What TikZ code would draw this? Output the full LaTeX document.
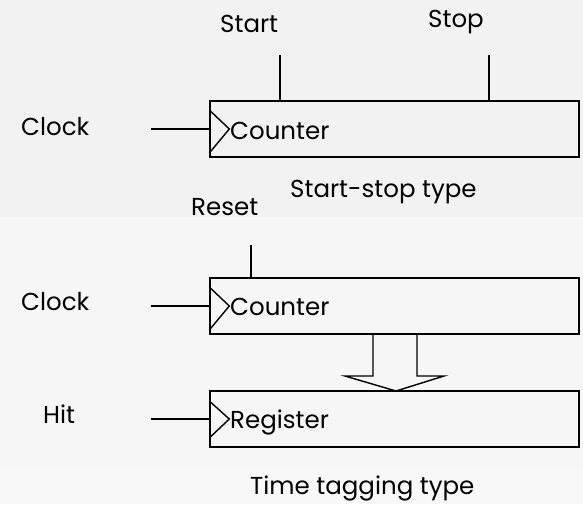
\documentclass[tikz,border=0pt]{standalone}
\usepackage{fontspec}
\setmainfont{Poppins}
\begin{document}
\begin{tikzpicture}[x=1pt,y=-1pt,
  box/.style={draw,line width=1.4pt,minimum width=369pt,inner sep=0pt},
  lbl/.style={inner sep=0pt,anchor=base west,font=\fontsize{24.5}{26}\selectfont},
  wire/.style={line width=1.4pt}]
\useasboundingbox (0,0) rectangle (583,504);
\fill[fill={rgb,255:red,242;green,242;blue,242}] (0,0) rectangle (583,217);
\fill[fill={rgb,255:red,246;green,246;blue,246}] (0,217) rectangle (583,468);
\fill[fill={rgb,255:red,248;green,248;blue,248}] (0,468) rectangle (583,504);
% start-stop
\node[box,minimum height=56pt] (c1) at (394.5,129) {};
\node[lbl] (tc1) at (230,139) {Counter};
\node[lbl] (start) at (220,32) {Start};
\node[lbl] (stop) at (428,27) {Stop};
\node[lbl] (clk1) at (21,135) {Clock};
\node[lbl] (sst) at (290,197) {Start-stop type};
\coordinate (s0) at (280,55);
\coordinate (p0) at (489,55);
\coordinate (k1) at (151,129);
\draw[wire] (s0) -- (s0 |- c1.north);
\draw[wire] (p0) -- (p0 |- c1.north);
\draw[wire] (k1) -- (c1.west);
\draw[wire] ([yshift=-24pt]c1.west) -- ([xshift=20pt]c1.west) -- ([yshift=19pt]c1.west);
% time tagging
\node[box,minimum height=56pt] (c2) at (394.5,306) {};
\node[lbl] (tc2) at (230,315) {Counter};
\node[lbl] (reset) at (191,215) {Reset};
\node[lbl] (clk2) at (21,310) {Clock};
\coordinate (r0) at (251,245);
\coordinate (k2) at (151,306);
\draw[wire] (r0) -- (r0 |- c2.north);
\draw[wire] (k2) -- (c2.west);
\draw[wire] ([yshift=-24pt]c2.west) -- ([xshift=20pt]c2.west) -- ([yshift=19pt]c2.west);
\node[box,minimum height=56pt] (rg) at (394.5,419) {};
\node[lbl] (trg) at (230,428) {Register};
\node[lbl] (hit) at (43,423) {Hit};
\node[lbl] (ttt) at (250,494) {Time tagging type};
\coordinate (k3) at (151,419);
\draw[wire] (k3) -- (rg.west);
\draw[wire] ([yshift=-19pt]rg.west) -- ([xshift=20pt]rg.west) -- ([yshift=18pt]rg.west);
% hollow arrow
\draw[wire,line join=miter] (373,334) -- (373,376) -- (345,376) -- (396,391) -- (444,376) -- (417,376) -- (417,334);
\end{tikzpicture}
\end{document}
